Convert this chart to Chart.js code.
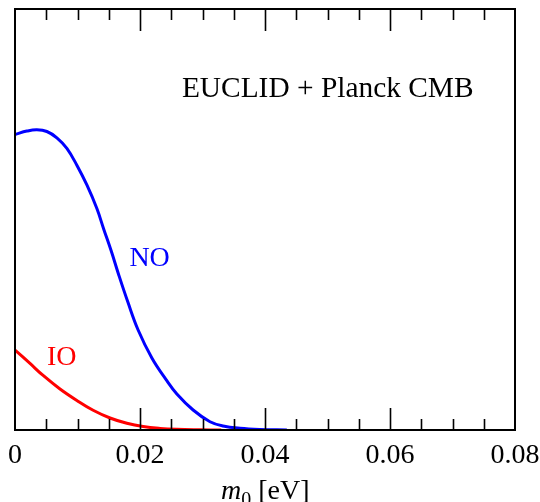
<!DOCTYPE html>
<html>
<head>
<meta charset="utf-8">
<script src="https://cdn.jsdelivr.net/npm/chart.js@4.4.1/dist/chart.umd.min.js"></script>
<style>
  html, body { margin: 0; padding: 0; background: #fff; }
  #wrap { width: 540px; height: 502px; }
</style>
</head>
<body>
<div id="wrap"><canvas id="c" width="540" height="502"></canvas></div>
<script>
// Lightest neutrino mass m0 [eV] and posterior (arbitrary units)
const noMass = [0, 0.0019, 0.0035, 0.0051, 0.0067, 0.0083, 0.0099, 0.0115, 0.0131, 0.0142, 0.0154, 0.0165, 0.0181, 0.0197, 0.0219, 0.0242, 0.0259, 0.0285, 0.0312, 0.0333, 0.036, 0.0392, 0.0435];
const noProb = [0.702, 0.710, 0.713, 0.709, 0.694, 0.669, 0.629, 0.582, 0.526, 0.477, 0.425, 0.373, 0.302, 0.2375, 0.171, 0.119, 0.0855, 0.0475, 0.0197, 0.0095, 0.004, 0.0012, 0];
const ioMass = [0, 0.0024, 0.0045, 0.0072, 0.0099, 0.0125, 0.0152, 0.0179, 0.0205, 0.0232, 0.0259, 0.0296, 0.033];
const ioProb = [0.190, 0.158, 0.1295, 0.0974, 0.0701, 0.0468, 0.0285, 0.0159, 0.0081, 0.0038, 0.0017, 0.0006, 0];
const xTickValues = [0, 0.02, 0.04, 0.06, 0.08];
const xTickLabels = ['0', '0.02', '0.04', '0.06', '0.08'];

const SERIF = '"Liberation Serif", "Times New Roman", serif';
const toPoints = (xs, ys) => xs.map((x, i) => ({ x: x, y: ys[i] }));

// Frame, inward ticks on top and bottom, annotations and axis title
const framePlugin = {
  id: 'frame',
  afterDatasetsDraw(chart) {
    const { ctx, chartArea: a, scales } = chart;
    const xs = scales.x, ys = scales.y;
    ctx.save();
    ctx.strokeStyle = '#000';
    ctx.lineWidth = 2;
    ctx.strokeRect(a.left, a.top, a.right - a.left, a.bottom - a.top);
    ctx.lineWidth = 1.6;
    for (let k = 1; k < 16; k++) {
      const v = k * 0.005;
      const px = Math.round(xs.getPixelForValue(v)) + 0.5;
      const len = (k % 4 === 0) ? 22 : 11;
      ctx.beginPath();
      ctx.moveTo(px, a.bottom); ctx.lineTo(px, a.bottom - len);
      ctx.moveTo(px, a.top); ctx.lineTo(px, a.top + len);
      ctx.stroke();
    }
    ctx.textBaseline = 'alphabetic';
    ctx.textAlign = 'left';
    ctx.font = '29.4px ' + SERIF;
    ctx.fillStyle = '#000';
    ctx.fillText('EUCLID + Planck CMB', xs.getPixelForValue(0.0267), ys.getPixelForValue(0.791));
    ctx.font = '28px ' + SERIF;
    ctx.fillStyle = '#0000ff';
    ctx.fillText('NO', xs.getPixelForValue(0.0183), ys.getPixelForValue(0.3895));
    ctx.fillStyle = '#ff0000';
    ctx.fillText('IO', xs.getPixelForValue(0.0051), ys.getPixelForValue(0.154));

    // axis title: italic m with subscript 0, then [eV]
    ctx.fillStyle = '#000';
    const base = 499;
    let x = 221;
    ctx.font = 'italic 28px ' + SERIF;
    ctx.fillText('m', x, base);
    x += ctx.measureText('m').width;
    ctx.font = '20px ' + SERIF;
    ctx.fillText('0', x, base + 7);
    x += ctx.measureText('0').width;
    ctx.font = '28px ' + SERIF;
    ctx.fillText(' [eV]', x, base);
    ctx.restore();
  }
};

new Chart(document.getElementById('c'), {
  type: 'line',
  data: {
    datasets: [
      {
        label: 'NO',
        data: toPoints(noMass, noProb),
        borderColor: '#0000ff',
        borderWidth: 3,
        pointRadius: 0,
        tension: 0.4,
        fill: false
      },
      {
        label: 'IO',
        data: toPoints(ioMass, ioProb),
        borderColor: '#ff0000',
        borderWidth: 3,
        pointRadius: 0,
        tension: 0.4,
        fill: false
      }
    ]
  },
  options: {
    responsive: false,
    animation: false,
    devicePixelRatio: 1,
    layout: { padding: { top: 9, left: 15, right: 25, bottom: 0 } },
    plugins: { legend: { display: false }, tooltip: { enabled: false } },
    scales: {
      x: {
        type: 'linear',
        min: 0,
        max: 0.08,
        afterFit(scale) {
          scale.height = 72;
          scale.paddingLeft = 0;
          scale.paddingRight = 0;
        },
        afterBuildTicks(scale) { scale.ticks = xTickValues.map(v => ({ value: v })); },
        grid: { display: false, drawTicks: false },
        border: { display: false },
        ticks: {
          padding: 9,
          maxRotation: 0,
          autoSkip: false,
          color: '#000',
          font: { family: SERIF, size: 28 },
          callback(value) {
            const i = xTickValues.findIndex(v => Math.abs(v - value) < 1e-9);
            return i >= 0 ? xTickLabels[i] : '';
          }
        }
      },
      y: {
        type: 'linear',
        min: 0,
        max: 1,
        display: false
      }
    }
  },
  plugins: [framePlugin]
});
</script>
</body>
</html>
